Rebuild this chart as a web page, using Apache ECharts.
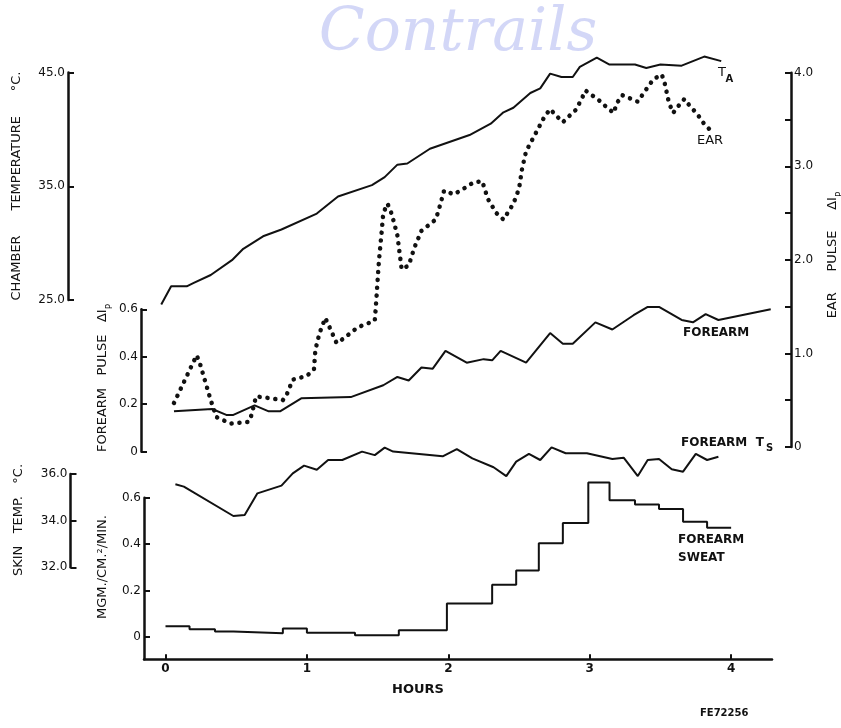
<!DOCTYPE html>
<html>
<head>
<meta charset="utf-8">
<script src="https://cdn.jsdelivr.net/npm/echarts@6/dist/echarts.min.js"></script>
<style>
html,body{margin:0;padding:0;background:#fff;}
#chart{width:841px;height:728px;}
</style>
</head>
<body>
<div id="chart"></div>
<script>
// ---------- DATA ----------
// Chamber temperature T_A (deg C) vs hours
const taHours = [-0.03,0.04,0.15,0.20,0.32,0.47,0.55,0.69,0.82,1.07,1.22,1.46,1.55,1.64,1.71,1.87,2.15,2.30,2.39,2.46,2.58,2.65,2.72,2.80,2.88,2.93,3.05,3.14,3.32,3.40,3.50,3.65,3.81,3.93];
const taTemp  = [24.6,26.2,26.2,26.5,27.2,28.5,29.5,30.6,31.2,32.6,34.1,35.1,35.8,36.9,37.0,38.3,39.5,40.5,41.5,41.9,43.2,43.6,44.9,44.6,44.6,45.5,46.3,45.7,45.7,45.4,45.7,45.6,46.4,46.0];

// Ear pulse (delta Ip) vs hours
const earHours = [0.06,0.22,0.24,0.32,0.36,0.46,0.59,0.61,0.64,0.70,0.83,0.86,0.90,1.00,1.05,1.06,1.09,1.13,1.16,1.21,1.26,1.36,1.48,1.49,1.50,1.51,1.53,1.54,1.57,1.60,1.64,1.67,1.72,1.76,1.81,1.91,1.93,1.97,2.04,2.13,2.18,2.24,2.28,2.34,2.39,2.46,2.50,2.52,2.55,2.61,2.68,2.72,2.77,2.81,2.85,2.90,2.94,2.97,3.07,3.12,3.17,3.19,3.23,3.34,3.38,3.45,3.51,3.53,3.56,3.59,3.63,3.67,3.71,3.76,3.80,3.85];
const earPulse = [0.47,0.98,0.91,0.50,0.32,0.25,0.27,0.35,0.54,0.53,0.50,0.57,0.72,0.76,0.83,1.04,1.22,1.38,1.28,1.11,1.16,1.28,1.35,1.55,1.78,2.00,2.32,2.50,2.60,2.49,2.26,1.90,1.94,2.13,2.31,2.43,2.52,2.74,2.70,2.78,2.83,2.84,2.65,2.50,2.43,2.60,2.76,2.96,3.16,3.33,3.53,3.61,3.53,3.47,3.53,3.60,3.71,3.81,3.70,3.63,3.57,3.67,3.76,3.69,3.78,3.93,3.98,3.89,3.68,3.57,3.65,3.72,3.64,3.56,3.47,3.39];

// Forearm pulse (delta Ip) vs hours
const fpHours = [0.06,0.33,0.43,0.48,0.63,0.73,0.81,0.96,1.31,1.54,1.64,1.72,1.81,1.89,1.98,2.13,2.25,2.31,2.37,2.55,2.72,2.81,2.88,3.04,3.16,3.31,3.41,3.49,3.65,3.73,3.82,3.91,4.28];
const fpPulse = [0.17,0.18,0.155,0.155,0.195,0.17,0.17,0.225,0.23,0.28,0.315,0.30,0.355,0.35,0.425,0.375,0.39,0.385,0.425,0.375,0.50,0.455,0.455,0.545,0.515,0.575,0.61,0.61,0.555,0.545,0.58,0.555,0.60];

// Forearm skin temperature Ts (deg C) vs hours
const tsHours = [0.07,0.13,0.48,0.56,0.65,0.82,0.90,0.98,1.07,1.15,1.25,1.39,1.48,1.55,1.61,1.96,2.06,2.17,2.32,2.41,2.48,2.57,2.65,2.73,2.83,2.98,3.16,3.24,3.34,3.41,3.49,3.58,3.66,3.75,3.83,3.91];
const tsTemp  = [35.56,35.46,34.20,34.24,35.17,35.50,36.03,36.36,36.18,36.60,36.60,36.96,36.81,37.13,36.96,36.76,37.07,36.67,36.29,35.91,36.53,36.86,36.60,37.14,36.89,36.89,36.64,36.70,35.91,36.60,36.64,36.20,36.10,36.86,36.60,36.74];

// Forearm sweat rate (mg/cm2/min), step values starting at each hour mark
const swHours = [0,0.17,0.35,0.48,0.83,1.00,1.34,1.65,1.99,2.31,2.48,2.64,2.81,2.99,3.14,3.32,3.49,3.66,3.83,4.00];
const swRate  = [0.046,0.033,0.023,0.015,0.036,0.017,0.007,0.028,0.144,0.225,0.286,0.403,0.491,0.666,0.589,0.571,0.551,0.496,0.470,0.470];

// Tick values
const hourTicks = [0,1,2,3,4];
const sweatTicks = [0,0.2,0.4,0.6];

// ---------- CHART ----------
const FONT = '"DejaVu Sans", "Liberation Sans", sans-serif';
const zip = (a, b) => a.map((x, i) => [x, b[i]]);
const XMIN = -0.152, XMAX = 4.289;
const L = 144, R = 69;

const grids = [
  {left: L, right: R, top: 72.5, height: 227.5},   // chamber temp
  {left: L, right: R, top: 72.7, height: 374.3},   // ear pulse
  {left: L, right: R, top: 309.3, height: 142.4},  // forearm pulse
  {left: L, right: R, top: 474, height: 93.3},     // skin temp
  {left: L, right: R, top: 497.7, height: 161.6}   // sweat
];

const axLine = {show: true, onZero: false, lineStyle: {color: '#111', width: 2.5}};
const tick = {show: true, inside: true, length: 6, lineStyle: {color: '#111', width: 2}};
const lab = {color: '#111', fontFamily: FONT, fontSize: 12, margin: 3};

const xAxes = grids.map((g, i) => ({
  type: 'value', gridIndex: i, min: XMIN, max: XMAX,
  show: i === 4,
  splitLine: {show: false},
  axisLine: axLine,
  axisTick: {show: true, inside: true, length: 5, customValues: hourTicks, lineStyle: {color: '#111', width: 2}},
  axisLabel: {customValues: hourTicks, formatter: v => String(Math.round(v)), color: '#111',
              fontFamily: FONT, fontSize: 12, fontWeight: 'bold', margin: 4}
}));

const yAxes = [
  {type: 'value', gridIndex: 0, min: 25, max: 45, interval: 10, position: 'left', offset: 76,
   axisLine: axLine, axisTick: tick, splitLine: {show: false},
   axisLabel: Object.assign({}, lab, {formatter: v => v.toFixed(1)})},
  {type: 'value', gridIndex: 1, min: 0, max: 4, interval: 0.5, position: 'right', offset: 19,
   axisLine: axLine, axisTick: tick, splitLine: {show: false},
   axisLabel: Object.assign({}, lab, {formatter: v => Math.abs(v - Math.round(v)) < 1e-6 ? (v === 0 ? '0' : v.toFixed(1)) : ''})},
  {type: 'value', gridIndex: 2, min: 0, max: 0.6, interval: 0.2, position: 'left', offset: 3,
   axisLine: axLine, axisTick: tick, splitLine: {show: false},
   axisLabel: Object.assign({}, lab, {formatter: v => v === 0 ? '0' : v.toFixed(1)})},
  {type: 'value', gridIndex: 3, min: 32, max: 36, interval: 2, position: 'left', offset: 73.5,
   axisLine: axLine, axisTick: tick, splitLine: {show: false},
   axisLabel: Object.assign({}, lab, {formatter: v => v.toFixed(1)})},
  {type: 'value', gridIndex: 4, min: -0.097, max: 0.6, position: 'left', offset: 0,
   axisLine: axLine, splitLine: {show: false},
   axisTick: Object.assign({}, tick, {customValues: sweatTicks}),
   axisLabel: Object.assign({}, lab, {customValues: sweatTicks, formatter: v => v === 0 ? '0' : v.toFixed(1)})}
];

const lineBase = {type: 'line', symbol: 'none', clip: false, smooth: false, animation: false,
                  lineStyle: {color: '#111', width: 2}};

const series = [
  Object.assign({}, lineBase, {name: 'T_A', xAxisIndex: 0, yAxisIndex: 0, data: zip(taHours, taTemp)}),
  Object.assign({}, lineBase, {name: 'EAR', xAxisIndex: 1, yAxisIndex: 1, data: zip(earHours, earPulse),
    lineStyle: {color: '#111', width: 4.5, type: [0.1, 7.8], cap: 'round', join: 'round'}}),
  Object.assign({}, lineBase, {name: 'FOREARM', xAxisIndex: 2, yAxisIndex: 2, data: zip(fpHours, fpPulse)}),
  Object.assign({}, lineBase, {name: 'FOREARM Ts', xAxisIndex: 3, yAxisIndex: 3, data: zip(tsHours, tsTemp)}),
  Object.assign({}, lineBase, {name: 'FOREARM SWEAT', xAxisIndex: 4, yAxisIndex: 4, step: 'end', data: zip(swHours, swRate)})
];

function txt(x, y, text, opts) {
  return {type: 'text', x: x, y: y, silent: true,
    style: Object.assign({text: text, fill: '#111', font: '13px ' + FONT, align: 'left', verticalAlign: 'top'}, opts || {})};
}
function vtitle(cx, cy, main, sub) {
  const rich = {
    a: {fontFamily: FONT, fontSize: 13, lineHeight: 16, verticalAlign: 'top', fill: '#111'},
    b: {fontFamily: FONT, fontSize: 9, lineHeight: 9, padding: [9, 0, 0, 0], verticalAlign: 'top', fill: '#111'}
  };
  return {type: 'text', x: cx, y: cy, rotation: Math.PI / 2, silent: true,
    style: {text: '{a|' + main + '}' + (sub ? '{b|' + sub + '}' : ''), rich: rich,
            align: 'center', verticalAlign: 'middle'}};
}

const graphic = [
  // watermark
  txt(458, 34, 'Contrails', {font: 'italic 60px "DejaVu Serif", serif', fill: 'rgba(140,150,235,0.38)',
      align: 'center', verticalAlign: 'middle'}),
  // axis titles
  vtitle(18, 186, 'CHAMBER      TEMPERATURE      °C.'),
  vtitle(104, 378, 'FOREARM   PULSE   ΔI', 'P'),
  vtitle(834, 255, 'EAR     PULSE     ΔI', 'P'),
  vtitle(20, 520, 'SKIN   TEMP.   °C.'),
  vtitle(104, 567, 'MGM./CM.²/MIN.'),
  // series labels
  txt(718, 66, 'T', {font: '13px ' + FONT}),
  txt(725.5, 74, 'A', {font: 'bold 10px ' + FONT}),
  txt(697, 134, 'EAR', {font: '13px ' + FONT}),
  txt(683, 327, 'FOREARM', {font: 'bold 12px ' + FONT}),
  txt(681, 437, 'FOREARM  T', {font: 'bold 12px ' + FONT}),
  txt(766, 443, 'S', {font: 'bold 10px ' + FONT}),
  txt(678, 534, 'FOREARM', {font: 'bold 12px ' + FONT}),
  txt(678, 552, 'SWEAT', {font: 'bold 12px ' + FONT}),
  // x title and figure code
  txt(418, 690, 'HOURS', {font: 'bold 13px ' + FONT, align: 'center', verticalAlign: 'middle'}),
  txt(700, 713, 'FE72256', {font: 'bold 10px ' + FONT, verticalAlign: 'middle'})
];

const chart = echarts.init(document.getElementById('chart'), null, {renderer: 'canvas'});
chart.setOption({
  animation: false,
  backgroundColor: '#fff',
  grid: grids,
  xAxis: xAxes,
  yAxis: yAxes,
  series: series,
  graphic: graphic
});
</script>
</body>
</html>
